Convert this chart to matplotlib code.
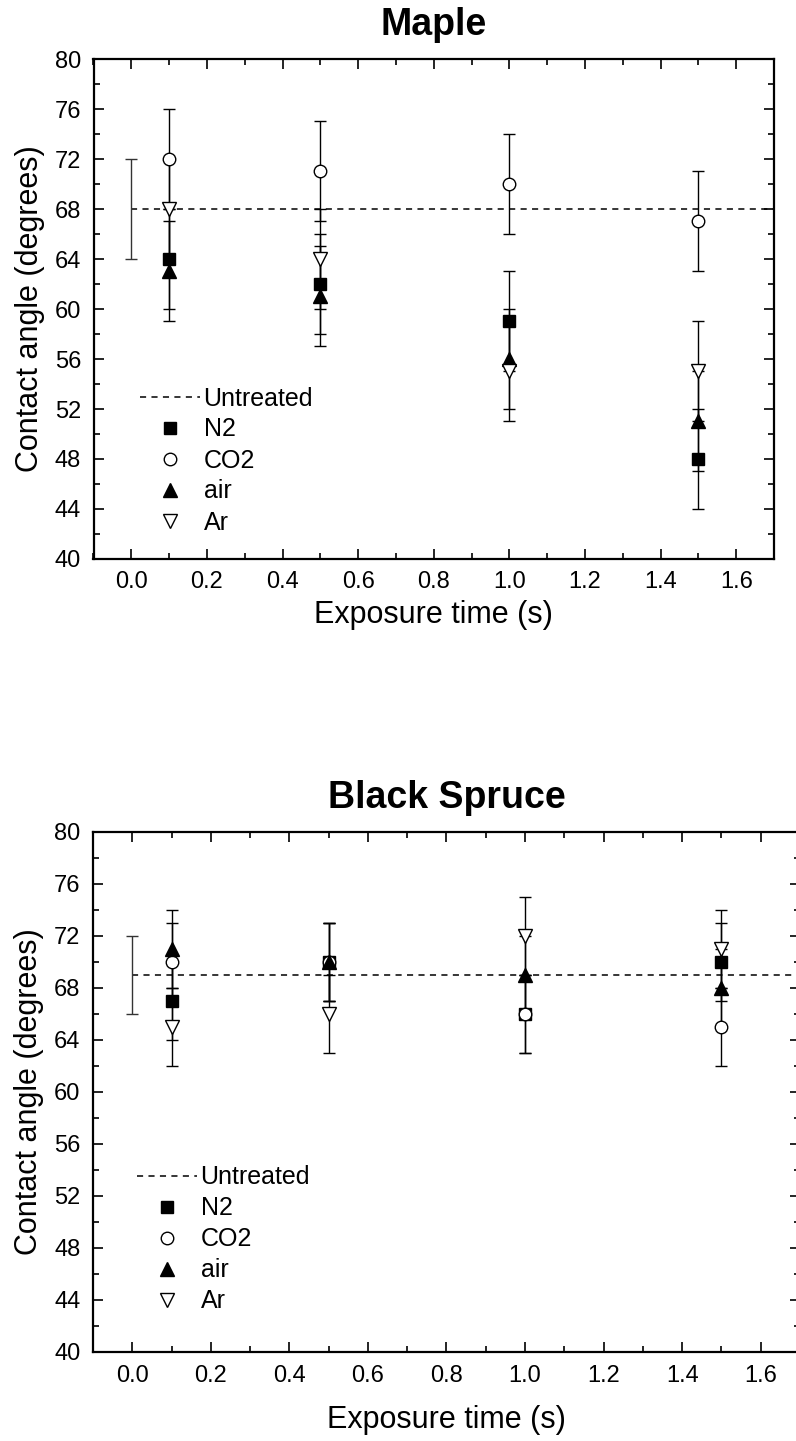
import matplotlib.pyplot as plt
from matplotlib.ticker import MultipleLocator

plt.rcParams['font.family'] = ['Liberation Sans', 'DejaVu Sans']

# exposure times (s) for the treated samples
exposure = [0.1, 0.5, 1.0, 1.5]
gases = ['N2', 'CO2', 'air', 'Ar']

# Maple contact angles (degrees)
maple_untreated = 68
maple_untreated_err = 4
maple_n2 = [64, 62, 59, 48]
maple_co2 = [72, 71, 70, 67]
maple_air = [63, 61, 56, 51]
maple_ar = [68, 64, 55, 55]
maple_err = 4

# Black Spruce contact angles (degrees)
spruce_untreated = 69
spruce_untreated_err = 3
spruce_n2 = [67, 70, 66, 70]
spruce_co2 = [70, 70, 66, 65]
spruce_air = [71, 70, 69, 68]
spruce_ar = [65, 66, 72, 71]
spruce_err = 3

markers = {'N2': ('s', 'black', 8.5), 'CO2': ('o', 'white', 9),
           'air': ('^', 'black', 10.5), 'Ar': ('v', 'white', 10.5)}

fig = plt.figure(figsize=(7.96, 14.41), dpi=100)
W, H = 796, 1441


def draw(ax, title, untreated, uerr, series, err, legend_anchor, xpad):
    ax.set_xlim(-0.1, 1.7)
    ax.set_ylim(40, 80)
    dash, = ax.plot([0, 1.7], [untreated, untreated], color='black', lw=1.1,
                    ls=(0, (4, 3.5)), label='Untreated')
    ax.errorbar([0], [untreated], yerr=[uerr], fmt='none', ecolor='#333333',
                elinewidth=1, capsize=4, capthick=1)
    handles = [dash]
    for gas, vals in zip(gases, series):
        m, fc, ms = markers[gas]
        c = ax.errorbar(exposure, vals, yerr=err, fmt=m, ms=ms, mfc=fc,
                        mec='black', mew=1, ecolor='black', elinewidth=1,
                        capsize=4.5, capthick=1, label=gas)
        handles.append(c[0])
    ax.legend(handles=handles, labels=['Untreated'] + gases, loc='upper left',
              bbox_to_anchor=legend_anchor, frameon=False, fontsize=18,
              borderpad=0, borderaxespad=0, handlelength=2.4,
              handletextpad=0.15, labelspacing=0.28)
    ax.xaxis.set_major_locator(MultipleLocator(0.2))
    ax.xaxis.set_minor_locator(MultipleLocator(0.1))
    ax.yaxis.set_major_locator(MultipleLocator(4))
    ax.yaxis.set_minor_locator(MultipleLocator(2))
    ax.tick_params(which='both', direction='in', top=True, right=True,
                   width=1.2, labelsize=17, pad=9)
    ax.tick_params(which='major', length=7)
    ax.tick_params(which='minor', length=4)
    for s in ax.spines.values():
        s.set_linewidth(1.6)
    ax.set_title(title, fontsize=27, fontweight='bold', pad=17)
    ax.set_xlabel('Exposure time (s)', fontsize=22, labelpad=xpad)
    ax.set_ylabel('Contact angle (degrees)', fontsize=22, labelpad=7)


ax1 = fig.add_axes([93.5 / W, (H - 559) / H, (774 - 93.5) / W, 500 / H])
draw(ax1, 'Maple', maple_untreated, maple_untreated_err,
     [maple_n2, maple_co2, maple_air, maple_ar], maple_err, (0.068, 0.345), 4.5)

ax2 = fig.add_axes([93 / W, (H - 1352) / H, (800 - 93) / W, 520 / H])
draw(ax2, 'Black Spruce', spruce_untreated, spruce_untreated_err,
     [spruce_n2, spruce_co2, spruce_air, spruce_ar], spruce_err, (0.062, 0.359), 13.5)

fig.savefig('out.png', dpi=100)
